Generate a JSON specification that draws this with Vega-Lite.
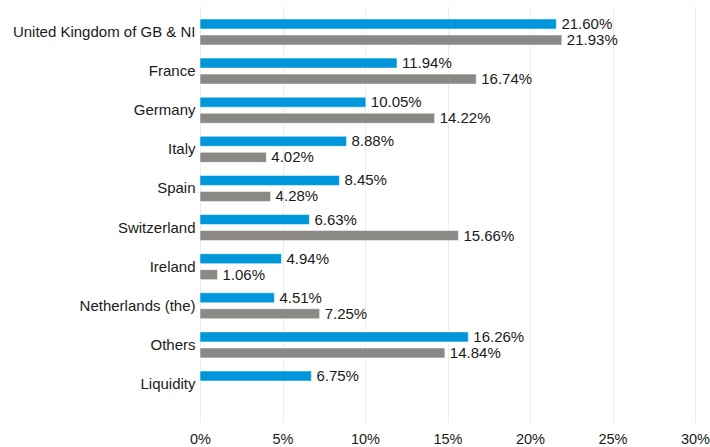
{
  "$schema": "https://vega.github.io/schema/vega-lite/v6.json",
  "width": 495,
  "height": 422,
  "autosize": {"type": "none"},
  "padding": {"left": 200, "top": 0, "right": 15, "bottom": 25},
  "background": "#ffffff",
  "config": {
    "view": {"stroke": null},
    "font": "Liberation Sans"
  },
  "data": {
    "values": [
      {"country": "United Kingdom of GB & NI", "series": "Fund", "value": 0.2160},
      {"country": "United Kingdom of GB & NI", "series": "Benchmark", "value": 0.2193},
      {"country": "France", "series": "Fund", "value": 0.1194},
      {"country": "France", "series": "Benchmark", "value": 0.1674},
      {"country": "Germany", "series": "Fund", "value": 0.1005},
      {"country": "Germany", "series": "Benchmark", "value": 0.1422},
      {"country": "Italy", "series": "Fund", "value": 0.0888},
      {"country": "Italy", "series": "Benchmark", "value": 0.0402},
      {"country": "Spain", "series": "Fund", "value": 0.0845},
      {"country": "Spain", "series": "Benchmark", "value": 0.0428},
      {"country": "Switzerland", "series": "Fund", "value": 0.0663},
      {"country": "Switzerland", "series": "Benchmark", "value": 0.1566},
      {"country": "Ireland", "series": "Fund", "value": 0.0494},
      {"country": "Ireland", "series": "Benchmark", "value": 0.0106},
      {"country": "Netherlands (the)", "series": "Fund", "value": 0.0451},
      {"country": "Netherlands (the)", "series": "Benchmark", "value": 0.0725},
      {"country": "Others", "series": "Fund", "value": 0.1626},
      {"country": "Others", "series": "Benchmark", "value": 0.1484},
      {"country": "Liquidity", "series": "Fund", "value": 0.0675}
    ]
  },
  "encoding": {
    "y": {
      "field": "country",
      "type": "nominal",
      "sort": null,
      "scale": {"range": [0, 416], "paddingInner": 0.335, "paddingOuter": 0.486},
      "axis": {
        "title": null,
        "domain": false,
        "ticks": false,
        "labelPadding": 5,
        "labelFontSize": 15,
        "labelColor": "#1a1a1a",
        "labelLimit": 300
      }
    },
    "yOffset": {
      "field": "series",
      "type": "nominal",
      "sort": ["Fund", "Benchmark"],
      "scale": {"paddingInner": 0.375, "paddingOuter": 0}
    },
    "x": {
      "field": "value",
      "type": "quantitative",
      "scale": {"domain": [0, 0.3], "nice": false},
      "axis": {
        "title": null,
        "format": ".0%",
        "values": [0, 0.05, 0.1, 0.15, 0.2, 0.25, 0.3],
        "domain": false,
        "ticks": false,
        "grid": true,
        "gridColor": "#ececec",
        "gridWidth": 1,
        "labelFlush": false,
        "labelBaseline": "alphabetic",
        "labelPadding": 21,
        "labelFontSize": 14.5,
        "labelColor": "#1a1a1a"
      }
    }
  },
  "layer": [
    {
      "mark": {"type": "bar", "stroke": "#ffffff", "strokeWidth": 0.5},
      "encoding": {
        "color": {
          "field": "series",
          "type": "nominal",
          "scale": {"domain": ["Fund", "Benchmark"], "range": ["#0097da", "#8a8985"]},
          "legend": null
        }
      }
    },
    {
      "mark": {"type": "text", "align": "left", "baseline": "middle", "dx": 5, "fontSize": 15, "color": "#1a1a1a"},
      "encoding": {
        "text": {"field": "value", "type": "quantitative", "format": ".2%"}
      }
    }
  ]
}
